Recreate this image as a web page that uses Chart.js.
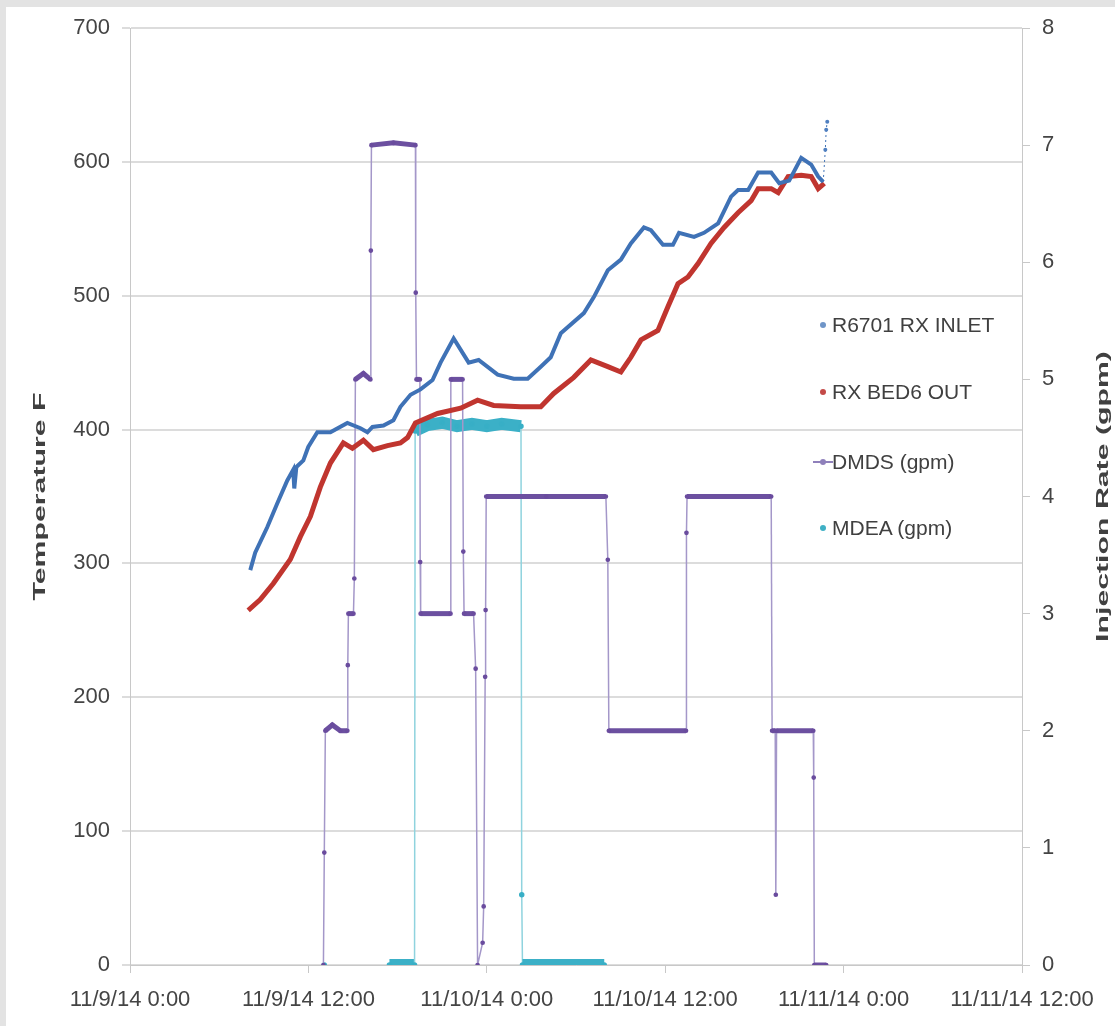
<!DOCTYPE html>
<html>
<head>
<meta charset="utf-8">
<script src="https://cdn.jsdelivr.net/npm/chart.js@4.4.0/dist/chart.umd.min.js"></script>
<style>
  html, body { margin: 0; padding: 0; background: #e3e3e3; }
  #paper { position: absolute; left: 6px; top: 7px; width: 1109px; height: 1019px; background: #fff; }
  #chart { position: absolute; left: 0; top: 0; }
  .leg { position: absolute; left: 810px; height: 30px; font: 21px "Liberation Sans", Arial, sans-serif; color: #404040; white-space: nowrap; line-height: 30px; }
  .leg i { position: absolute; top: 12px; width: 6px; height: 6px; border-radius: 3px; }
  .leg b { position: absolute; top: 14px; height: 2px; left: 3px; width: 20px; }
  .leg span { position: absolute; left: 22px; top: 0; }
</style>
</head>
<body>
<div id="paper"></div>
<canvas id="chart" width="1115" height="1026"></canvas>
<div id="legend"></div>
<script>
// x axis = hours since 11/9/14 0:00
const xTickLabels = ['11/9/14 0:00', '11/9/14 12:00', '11/10/14 0:00', '11/10/14 12:00', '11/11/14 0:00', '11/11/14 12:00'];
const leftTitle = 'Temperature F';
const rightTitle = 'Injection Rate (gpm)';

// R6701 RX INLET (F)
const inletHours = [8.09, 8.42, 9.23, 9.91, 10.58, 10.98, 11.05, 11.19, 11.66, 11.99, 12.60, 13.48, 14.62, 15.50, 15.97, 16.31, 17.05, 17.72, 18.19, 18.87, 19.54, 20.35, 20.89, 21.77, 22.78, 23.45, 24.73, 25.81, 26.75, 27.63, 28.30, 28.98, 30.53, 31.20, 32.14, 33.02, 33.69, 34.57, 35.04, 35.85, 36.52, 36.93, 37.94, 38.61, 39.56, 40.43, 40.90, 41.58, 42.25, 43.13, 43.67, 44.34, 45.15, 45.82, 46.29, 46.63, 46.77, 46.83, 46.90];
const inletTemp = [295, 308, 327, 345, 362, 370, 356, 372, 377, 387, 398, 398, 405, 401, 398, 402, 403, 407, 417, 426, 430, 437, 450, 468, 450, 452, 441, 438, 438, 447, 454, 472, 487, 499, 519, 527, 539, 551, 549, 538, 538, 547, 544, 547, 554, 574, 579, 579, 592, 592, 584, 586, 603, 598, 589, 585, 609, 624, 630];

// RX BED6 OUT (F)
const bedHours = [7.95, 8.76, 9.64, 10.78, 11.46, 12.13, 12.80, 13.48, 14.35, 14.96, 15.70, 16.37, 17.32, 18.19, 18.67, 19.20, 20.69, 22.24, 23.38, 24.46, 26.28, 27.63, 28.50, 29.85, 31.00, 32.14, 33.02, 33.69, 34.37, 35.51, 36.19, 36.86, 37.53, 38.21, 39.08, 39.96, 40.90, 41.78, 42.25, 43.13, 43.60, 44.27, 45.15, 45.82, 46.29, 46.70];
const bedTemp = [265, 273, 285, 303, 320, 335, 357, 375, 390, 386, 392, 385, 388, 390, 394, 405, 412, 416, 422, 418, 417, 417, 427, 439, 452, 447, 443, 454, 467, 474, 492, 509, 514, 524, 539, 551, 562, 571, 580, 580, 577, 589, 590, 589, 580, 584];

// DMDS (gpm)
const dmdsHours = [13.01, 13.07, 13.14, 13.61, 14.15, 14.62, 14.65, 14.69, 15.03, 15.09, 15.16, 15.70, 16.17, 16.20, 16.24, 17.72, 19.20, 19.22, 19.27, 19.50, 19.52, 19.55, 21.56, 21.58, 22.37, 22.42, 22.47, 23.11, 23.25, 23.38, 23.72, 23.79, 23.89, 23.92, 23.96, 28.00, 32.01, 32.14, 32.21, 37.40, 37.43, 37.47, 43.13, 43.19, 43.40, 43.44, 43.49, 45.96, 45.99, 46.03, 46.83];
const dmdsRate = [0, 0.96, 2.0, 2.05, 2.0, 2.0, 2.56, 3.0, 3.0, 3.3, 5.0, 5.05, 5.0, 6.1, 7.0, 7.02, 7.0, 5.74, 5.0, 5.0, 3.44, 3.0, 3.0, 5.0, 5.0, 3.53, 3.0, 3.0, 2.53, 0, 0.19, 0.5, 2.46, 3.03, 4.0, 4.0, 4.0, 3.46, 2.0, 2.0, 3.69, 4.0, 4.0, 2.0, 2.0, 0.6, 2.0, 2.0, 1.6, 0, 0];

// MDEA (gpm)
const mdeaHours = [13.07, 15.0, 17.45, 19.14, 19.18, 20.0, 21.0, 22.0, 23.0, 24.0, 25.0, 26.30, 26.35, 26.40, 31.90];
const mdeaRate = [0, null, 0, 0, 4.56, 4.61, 4.63, 4.60, 4.62, 4.60, 4.62, 4.60, 0.6, 0, 0];

const FONT = '"Liberation Sans", Arial, sans-serif';
const toXY = (xs, ys) => xs.map((x, i) => ({ x: x, y: ys[i] }));
const flat = (thick, thin) => ctx => Math.abs(ctx.p0.parsed.y - ctx.p1.parsed.y) < 0.15 ? thick : thin;
const tail = 3; // last inlet points are dotted with markers

// rotated axis titles (drawn stretched like the source image)
const axisTitles = {
  id: 'axisTitles',
  afterDraw(chart) {
    const ctx = chart.ctx;
    const area = chart.chartArea;
    const midY = (area.top + area.bottom) / 2;
    const draw = (text, x) => {
      ctx.save();
      ctx.translate(x, midY);
      ctx.rotate(-Math.PI / 2);
      ctx.scale(1.78, 1);
      ctx.font = 'bold 17px "Liberation Sans", sans-serif';
      ctx.fillStyle = '#404040';
      ctx.textAlign = 'center';
      ctx.textBaseline = 'middle';
      ctx.fillText(text, 0, 0);
      ctx.restore();
    };
    draw(leftTitle, 40);
    draw(rightTitle, 1103);
  }
};

const chart = new Chart(document.getElementById('chart'), {
  type: 'line',
  data: {
    datasets: [
      {
        label: 'R6701 RX INLET',
        data: toXY(inletHours, inletTemp),
        yAxisID: 'yT',
        borderColor: '#3f72b6',
        backgroundColor: '#4f7fc0',
        borderWidth: 4,
        pointBorderWidth: 0,
        pointRadius: ctx => ctx.dataIndex >= inletHours.length - tail ? 2 : 0,
        segment: {
          borderWidth: ctx => ctx.p0DataIndex >= inletHours.length - tail - 1 ? 1 : 4,
          borderDash: ctx => ctx.p0DataIndex >= inletHours.length - tail - 1 ? [2, 3] : undefined
        },
        legendColor: '#6f95c8'
      },
      {
        label: 'RX BED6 OUT',
        data: toXY(bedHours, bedTemp),
        yAxisID: 'yT',
        borderColor: '#c0352f',
        backgroundColor: '#c0352f',
        borderWidth: 5,
        pointRadius: 0,
        legendColor: '#c44a48'
      },
      {
        label: 'DMDS (gpm)',
        data: toXY(dmdsHours, dmdsRate),
        yAxisID: 'yR',
        borderColor: '#9a8cc2',
        backgroundColor: '#6a4c9e',
        pointBorderColor: '#6a4c9e',
        borderWidth: 1.5,
        pointRadius: 1.6,
        segment: { borderWidth: flat(5, 1.5), borderColor: flat('#6c50a0', '#a497c9') },
        legendColor: '#8f80bb',
        legendLine: true
      },
      {
        label: 'MDEA (gpm)',
        data: toXY(mdeaHours, mdeaRate),
        yAxisID: 'yR',
        borderColor: '#7fcfdc',
        backgroundColor: '#38afc6',
        pointBorderColor: '#38afc6',
        borderWidth: 1.5,
        pointRadius: 2,
        spanGaps: false,
        segment: { borderWidth: flat(12, 1.5), borderColor: flat('#3bb0c7', '#8fd3de') },
        legendColor: '#3fb0c5'
      }
    ]
  },
  options: {
    responsive: false,
    animation: false,
    layout: { padding: { top: 28, left: 0, right: 0, bottom: 0 } },
    plugins: { legend: { display: false }, tooltip: { enabled: false } },
    scales: {
      x: {
        type: 'linear',
        min: 0,
        max: 60,
        afterFit: s => { s.height = 61; },
        ticks: {
          stepSize: 12,
          autoSkip: false,
          maxRotation: 0,
          padding: 14,
          color: '#444',
          font: { family: FONT, size: 22 },
          callback: v => xTickLabels[v / 12]
        },
        grid: { drawOnChartArea: false, color: '#c8c8c8', tickLength: 8 },
        border: { color: '#c8c8c8' }
      },
      yT: {
        position: 'left',
        min: 0,
        max: 700,
        afterFit: s => { s.width = 130; },
        ticks: { stepSize: 100, padding: 12, color: '#444', font: { family: FONT, size: 22 } },
        grid: { color: '#dcdcdc', lineWidth: 2, tickLength: 8 },
        border: { color: '#c8c8c8' }
      },
      yR: {
        position: 'right',
        min: 0,
        max: 8,
        afterFit: s => { s.width = 93; },
        ticks: { stepSize: 1, padding: 12, color: '#444', font: { family: FONT, size: 22 } },
        grid: { drawOnChartArea: false, color: '#c8c8c8', tickLength: 8 },
        border: { color: '#c8c8c8' }
      }
    }
  },
  plugins: [axisTitles]
});

// legend inside the plot, at the right
const legendTops = [310, 377, 447, 513];
const legend = document.getElementById('legend');
chart.data.datasets.forEach((ds, i) => {
  const row = document.createElement('div');
  row.className = 'leg';
  row.style.top = legendTops[i] + 'px';
  if (ds.legendLine) {
    const b = document.createElement('b');
    b.style.background = ds.legendColor;
    row.appendChild(b);
  }
  const dot = document.createElement('i');
  dot.style.background = ds.legendColor;
  dot.style.left = '10px';
  row.appendChild(dot);
  const t = document.createElement('span');
  t.textContent = ds.label;
  row.appendChild(t);
  legend.appendChild(row);
});
</script>
</body>
</html>
